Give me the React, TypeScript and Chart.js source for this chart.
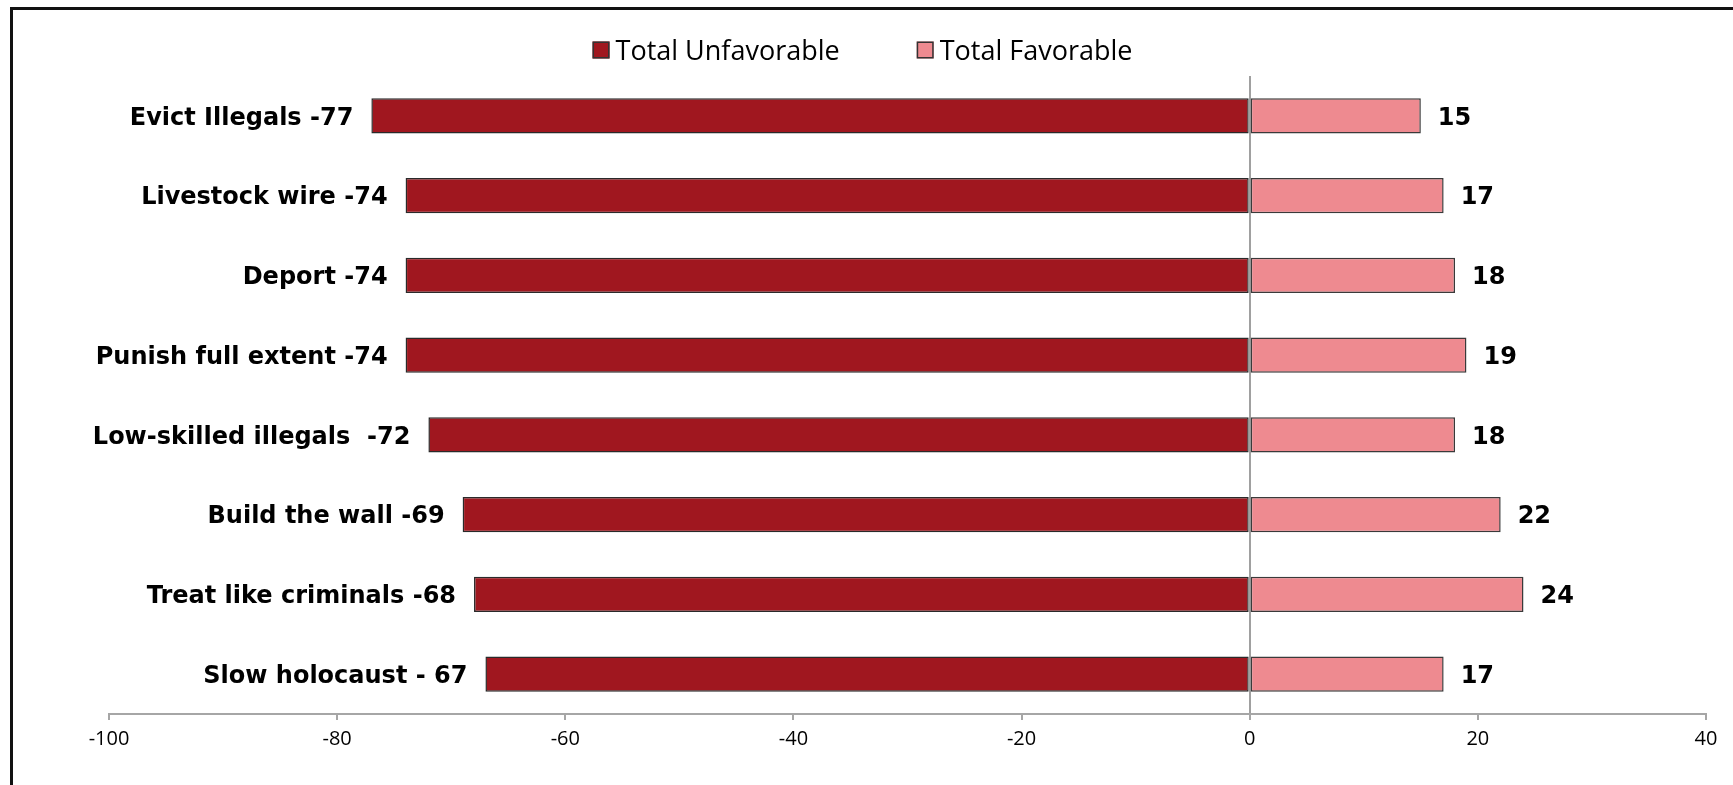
import React, { useEffect, useRef } from "react";
import { Chart, registerables } from "chart.js";

Chart.register(...registerables);

const categories = [
  "Evict Illegals -77",
  "Livestock wire -74",
  "Deport -74",
  "Punish full extent -74",
  "Low-skilled illegals  -72",
  "Build the wall -69",
  "Treat like criminals -68",
  "Slow holocaust - 67",
];
const unfavorable = [-77, -74, -74, -74, -72, -69, -68, -67];
const favorable = [15, 17, 18, 19, 18, 22, 24, 17];
const seriesNames = ["Total Unfavorable", "Total Favorable"];
const axisMin = -100;
const axisMax = 40;
const axisStep = 20;

const DARK_RED = "#A0171F";
const PINK = "#EE8A90";
const FONT = '"Open Sans", "DejaVu Sans", sans-serif';
const BOLD_FONT = '"DejaVu Sans", "Open Sans", sans-serif';

const barLabelPlugin = {
  id: "barLabels",
  afterDatasetsDraw(chart: any) {
    const ctx = chart.ctx;
    ctx.save();
    ctx.font = `bold 24px ${BOLD_FONT}`;
    ctx.fillStyle = "#000";
    ctx.textBaseline = "alphabetic";
    const cap = 17.5;
    const m0 = chart.getDatasetMeta(0);
    const m1 = chart.getDatasetMeta(1);
    m0.data.forEach((bar: any, i: number) => {
      const { x, y } = bar.getProps(["x", "y"], true);
      ctx.textAlign = "right";
      ctx.fillText(String(chart.data.labels[i]), x - 18, y + cap / 2);
    });
    m1.data.forEach((bar: any, i: number) => {
      const { x, y } = bar.getProps(["x", "y"], true);
      ctx.textAlign = "left";
      ctx.fillText(String(chart.data.datasets[1].data[i]), x + 17, y + cap / 2);
    });
    ctx.restore();
  },
};

const legendPlugin = {
  id: "topLegend",
  afterDraw(chart: any) {
    const ctx = chart.ctx;
    ctx.save();
    ctx.font = `27px ${FONT}`;
    const box = 17;
    const gapBT = 6;
    const gapItems = 77;
    const cy = 50;
    const items = chart.data.datasets.map((ds: any) => ({
      text: ds.label,
      color: ds.backgroundColor,
      w: ctx.measureText(ds.label).width,
    }));
    const total =
      items.reduce((s: number, it: any) => s + box + gapBT + it.w, 0) +
      gapItems * (items.length - 1);
    let x = chart.width / 2 - 4 - total / 2;
    items.forEach((it: any) => {
      ctx.fillStyle = it.color;
      ctx.fillRect(x, cy - box / 2, box, box);
      ctx.strokeStyle = "#333";
      ctx.lineWidth = 1.5;
      ctx.strokeRect(x + 0.75, cy - box / 2 + 0.75, box - 1.5, box - 1.5);
      ctx.fillStyle = "#000";
      ctx.textAlign = "left";
      ctx.textBaseline = "alphabetic";
      ctx.fillText(it.text, x + box + gapBT, cy + 10);
      x += box + gapBT + it.w + gapItems;
    });
    ctx.restore();
  },
};

export default function App() {
  const canvasRef = useRef<HTMLCanvasElement | null>(null);

  useEffect(() => {
    if (!canvasRef.current) return;
    const chart = new Chart(canvasRef.current, {
      type: "bar",
      data: {
        labels: categories,
        datasets: [
          {
            label: seriesNames[0],
            data: unfavorable,
            backgroundColor: DARK_RED,
            borderColor: "#2a2a2a",
            borderWidth: 1.5,
            borderSkipped: false,
            barPercentage: 0.44,
            categoryPercentage: 1,
          },
          {
            label: seriesNames[1],
            data: favorable,
            backgroundColor: PINK,
            borderColor: "#3a3a3a",
            borderWidth: 1.5,
            borderSkipped: false,
            barPercentage: 0.44,
            categoryPercentage: 1,
          },
        ],
      },
      options: {
        indexAxis: "y",
        animation: false,
        responsive: false,
        devicePixelRatio: 1,
        layout: { padding: { left: 109, right: 27, top: 76, bottom: 35 } },
        plugins: {
          legend: { display: false },
          tooltip: { enabled: false },
        },
        scales: {
          y: {
            stacked: true,
            display: false,
          },
          x: {
            stacked: true,
            min: axisMin,
            max: axisMax,
            afterFit: (scale: any) => {
              scale.height = 36;
            },
            ticks: {
              stepSize: axisStep,
              color: "#000",
              padding: 7,
              font: { family: FONT, size: 20 },
            },
            grid: {
              color: (c: any) => (c.tick && c.tick.value === 0 ? "#A0A0A0" : "rgba(0,0,0,0)"),
              lineWidth: 2,
              tickColor: "#A6A6A6",
              tickLength: 6,
              drawOnChartArea: true,
            },
            border: { display: true, color: "#A6A6A6", width: 2 },
          },
        },
      },
      plugins: [barLabelPlugin, legendPlugin],
    });
    return () => chart.destroy();
  }, []);

  return (
    <div
      style={{
        position: "fixed",
        left: 0,
        top: 0,
        width: 1733,
        height: 785,
        overflow: "hidden",
        background: "#fff",
      }}
    >
      <canvas
        ref={canvasRef}
        width={1733}
        height={785}
        style={{ position: "absolute", left: 0, top: 0, width: 1733, height: 785 }}
      />
      <div
        style={{
          position: "absolute",
          left: 10,
          top: 7,
          width: 1800,
          height: 900,
          borderLeft: "3px solid #111",
          borderTop: "3px solid #111",
          pointerEvents: "none",
        }}
      />
    </div>
  );
}
